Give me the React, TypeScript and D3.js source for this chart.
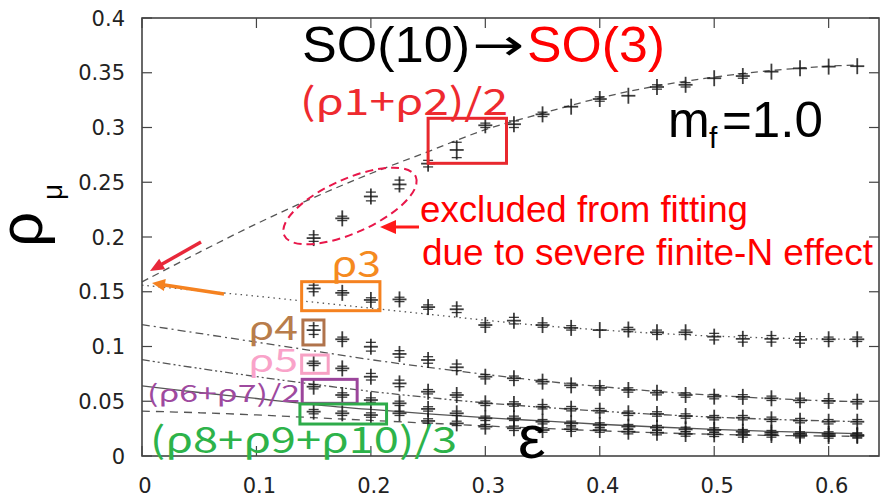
import React from "react";
import * as d3 from "d3";

const W = 894;
const H = 497;

const xTicks = [0, 0.1, 0.2, 0.3, 0.4, 0.5, 0.6];
const xTickLabels = ["0", "0.1", "0.2", "0.3", "0.4", "0.5", "0.6"];
const yTicks = [0, 0.05, 0.1, 0.15, 0.2, 0.25, 0.3, 0.35, 0.4];
const yTickLabels = ["0", "0.05", "0.1", "0.15", "0.2", "0.25", "0.3", "0.35", "0.4"];

// epsilon values of the lattice data
const eps = [0.15, 0.175, 0.2, 0.225, 0.25, 0.275, 0.3, 0.325, 0.35, 0.375, 0.4, 0.425, 0.45, 0.475, 0.5, 0.525, 0.55, 0.575, 0.6, 0.625];

const rho12 = [0.199, 0.217, 0.237, 0.248, 0.267, 0.2795, 0.302, 0.303, 0.312, 0.319, 0.326, 0.329, 0.337, 0.339, 0.345, 0.347, 0.351, 0.354, 0.3556, 0.356];
const rho12Err = [0.003, 0.002, 0.004, 0.004, 0.003, 0.007, 0.002, 0.003, 0.002, 0.001, 0.002, 0.001, 0.002, 0.002, 0.001, 0.002, 0.001, 0.001, 0.001, 0.001];

const rho3 = [0.153, 0.149, 0.1425, 0.143, 0.136, 0.134, 0.1196, 0.1236, 0.1196, 0.117, 0.115, 0.1155, 0.113, 0.113, 0.109, 0.107, 0.107, 0.106, 0.1066, 0.1066];
const rho3Err = [0.003, 0.002, 0.002, 0.002, 0.002, 0.003, 0.002, 0.003, 0.002, 0.002, 0.001, 0.002, 0.002, 0.002, 0.003, 0.003, 0.003, 0.003, 0.002, 0.002];

const rho4 = [0.115, 0.1066, 0.0998, 0.0932, 0.0877, 0.081, 0.0724, 0.071, 0.0679, 0.0645, 0.0622, 0.0603, 0.0578, 0.0557, 0.0542, 0.054, 0.0527, 0.0508, 0.0503, 0.0496];
const rho4Err = [0.004, 0.002, 0.004, 0.003, 0.003, 0.003, 0.002, 0.002, 0.002, 0.002, 0.002, 0.002, 0.002, 0.002, 0.002, 0.002, 0.002, 0.002, 0.002, 0.002];

const rho5 = [0.0846, 0.08, 0.0724, 0.0663, 0.0587, 0.0557, 0.0481, 0.0475, 0.045, 0.0432, 0.0414, 0.039, 0.0384, 0.0365, 0.035, 0.035, 0.0335, 0.0323, 0.0313, 0.0313];
const rho5Err = [0.002, 0.002, 0.003, 0.003, 0.002, 0.002, 0.002, 0.002, 0.002, 0.002, 0.002, 0.002, 0.002, 0.002, 0.002, 0.002, 0.002, 0.002, 0.002, 0.002];

const rho67 = [0.0633, 0.0557, 0.0511, 0.0481, 0.043, 0.039, 0.0344, 0.0344, 0.0313, 0.0298, 0.0283, 0.0268, 0.0259, 0.0243, 0.0237, 0.0222, 0.0213, 0.0201, 0.0201, 0.0192];
const rho67Err = [0.002, 0.002, 0.002, 0.002, 0.002, 0.002, 0.002, 0.002, 0.002, 0.002, 0.002, 0.002, 0.002, 0.002, 0.002, 0.002, 0.002, 0.002, 0.002, 0.002];

const rho8 = [0.0405, 0.039, 0.0374, 0.039, 0.032, 0.0298, 0.0268, 0.0253, 0.0237, 0.0245, 0.0237, 0.0222, 0.0213, 0.0201, 0.0198, 0.0192, 0.0192, 0.0186, 0.0183, 0.0183];
const rho8Err = [0.002, 0.002, 0.002, 0.002, 0.002, 0.002, 0.002, 0.002, 0.002, 0.002, 0.002, 0.002, 0.002, 0.002, 0.002, 0.002, 0.002, 0.002, 0.002, 0.002];

// fit curves
const fitEps = [0, 0.05, 0.1, 0.15, 0.2, 0.25, 0.3, 0.35, 0.4, 0.45, 0.5, 0.55, 0.6, 0.625];
const fit12 = [0.159, 0.186, 0.212, 0.236, 0.258, 0.278, 0.298, 0.313, 0.327, 0.338, 0.346, 0.352, 0.356, 0.357];
const fit3 = [0.156, 0.151, 0.146, 0.1405, 0.135, 0.1295, 0.124, 0.119, 0.1152, 0.112, 0.1095, 0.1078, 0.1068, 0.1065];
const fit4 = [0.12, 0.112, 0.104, 0.096, 0.088, 0.081, 0.0745, 0.0685, 0.0635, 0.059, 0.0555, 0.0525, 0.0503, 0.0496];
const fit5 = [0.088, 0.08, 0.0725, 0.0655, 0.059, 0.0535, 0.0485, 0.0445, 0.041, 0.038, 0.0355, 0.0335, 0.032, 0.0315];
const fit67 = [0.064, 0.058, 0.0525, 0.047, 0.0425, 0.0385, 0.035, 0.032, 0.029, 0.0265, 0.0243, 0.0225, 0.021, 0.0205];
const fit8 = [0.041, 0.0395, 0.0375, 0.035, 0.0325, 0.03, 0.0275, 0.0252, 0.023, 0.0212, 0.0198, 0.0188, 0.0182, 0.018];

const x = d3.scaleLinear().domain([0, 0.644]).range([142, 879]);
const y = d3.scaleLinear().domain([0, 0.4]).range([456, 18]);

const lineGen = d3
  .line<[number, number]>()
  .x((d) => x(d[0]))
  .y((d) => y(d[1]))
  .curve(d3.curveCatmullRom.alpha(0.5));

const fits = [
  { v: fit12, dash: "7,5" },
  { v: fit3, dash: "1.5,4" },
  { v: fit4, dash: "8,4,2,4" },
  { v: fit5, dash: "8,3,2,3,2,3" },
  { v: fit67, dash: "" },
  { v: fit8, dash: "8,6" },
];

const series = [
  { v: rho12, e: rho12Err },
  { v: rho3, e: rho3Err },
  { v: rho4, e: rho4Err },
  { v: rho5, e: rho5Err },
  { v: rho67, e: rho67Err },
  { v: rho8, e: rho8Err },
];

// annotation boxes in data units [eps0, eps1, rhoTop, rhoBottom]
const boxes = [
  { b: [0.25, 0.3185, 0.3084, 0.2673], c: "#e8282e" },
  { b: [0.1395, 0.2079, 0.1592, 0.1327], c: "#f58220" },
  { b: [0.1406, 0.159, 0.1242, 0.1014], c: "#b0734b" },
  { b: [0.1395, 0.1627, 0.0922, 0.0755], c: "#f7a1c4" },
  { b: [0.14, 0.188, 0.07, 0.0481], c: "#9b459b" },
  { b: [0.138, 0.2137, 0.0475, 0.0292], c: "#2eab4a" },
];

function Arrow({ x1, y1, x2, y2, color, w = 3, hl = 14, hw = 7 }: any) {
  const dx = x2 - x1;
  const dy = y2 - y1;
  const L = Math.sqrt(dx * dx + dy * dy);
  const ux = dx / L;
  const uy = dy / L;
  const bx = x2 - ux * hl;
  const by = y2 - uy * hl;
  const px = -uy;
  const py = ux;
  const pts = `${x2},${y2} ${bx + px * hw},${by + py * hw} ${bx - px * hw},${by - py * hw}`;
  return (
    <g>
      <line x1={x1} y1={y1} x2={bx + ux * 2} y2={by + uy * 2} stroke={color} strokeWidth={w} />
      <polygon points={pts} fill={color} />
    </g>
  );
}

export default function App() {
  const axisColor = "#444";
  const tickLen = 10;
  const x0 = x.range()[0];
  const x1 = x.range()[1];
  const y0 = y.range()[0];
  const y1 = y.range()[1];
  const cjk = "'Noto Sans CJK JP', 'Noto Sans', sans-serif";
  const sans = "'Liberation Sans', Arial, sans-serif";
  const tickFont = "'DejaVu Sans', sans-serif";

  return (
    <svg width={W} height={H} style={{ position: "absolute", left: 0, top: 0, background: "#fff" }}>
      <rect x={0} y={0} width={W} height={H} fill="#fff" />

      {/* fit curves */}
      {fits.map((f, i) => (
        <path
          key={"f" + i}
          d={lineGen(fitEps.map((e, j) => [e, f.v[j]] as [number, number])) || ""}
          fill="none"
          stroke="#555"
          strokeWidth={1.3}
          strokeDasharray={f.dash || undefined}
        />
      ))}

      {/* data points with error bars */}
      {series.map((s, si) => (
        <g key={"s" + si} stroke="#1a1a1a" strokeWidth={1.8} strokeOpacity={0.85}>
          {s.v.map((v, i) => {
            const px = x(eps[i]);
            const py = y(v);
            const ep = y(0) - y(s.e[i]);
            const vh = Math.max(8, ep + 2);
            return (
              <g key={i}>
                <line x1={px - 7} y1={py} x2={px + 7} y2={py} />
                <line x1={px} y1={py - vh} x2={px} y2={py + vh} />
                {ep >= 1.5 && <line x1={px - 5} y1={py - ep} x2={px + 5} y2={py - ep} strokeWidth={1.3} />}
                {ep >= 1.5 && <line x1={px - 5} y1={py + ep} x2={px + 5} y2={py + ep} strokeWidth={1.3} />}
              </g>
            );
          })}
        </g>
      ))}

      {/* frame */}
      <rect x={x0} y={y1} width={x1 - x0} height={y0 - y1} fill="none" stroke={axisColor} strokeWidth={1.6} />
      {yTicks.map((t, i) => (
        <g key={"yt" + i}>
          <line x1={x0} y1={y(t)} x2={x0 + tickLen} y2={y(t)} stroke={axisColor} strokeWidth={1.2} />
          <line x1={x1} y1={y(t)} x2={x1 - tickLen} y2={y(t)} stroke={axisColor} strokeWidth={1.2} />
          <text x={125} y={y(t)} dy="0.36em" textAnchor="end" fontFamily={tickFont} fontSize={21} fill="#222">
            {yTickLabels[i]}
          </text>
        </g>
      ))}
      {xTicks.map((t, i) => (
        <g key={"xt" + i}>
          <line x1={x(t)} y1={y0} x2={x(t)} y2={y0 - tickLen} stroke={axisColor} strokeWidth={1.2} />
          <line x1={x(t)} y1={y1} x2={x(t)} y2={y1 + tickLen} stroke={axisColor} strokeWidth={1.2} />
          <text x={x(t) + 3} y={493} textAnchor="middle" fontFamily={tickFont} fontSize={21} fill="#222">
            {xTickLabels[i]}
          </text>
        </g>
      ))}

      {/* boxes */}
      {boxes.map((bx, i) => (
        <rect
          key={"b" + i}
          x={x(bx.b[0])}
          y={y(bx.b[2])}
          width={x(bx.b[1]) - x(bx.b[0])}
          height={y(bx.b[3]) - y(bx.b[2])}
          fill="none"
          stroke={bx.c}
          strokeWidth={3}
        />
      ))}

      {/* dashed ellipse */}
      <ellipse
        cx={350}
        cy={206}
        rx={72}
        ry={27}
        transform="rotate(-24 350 206)"
        fill="none"
        stroke="#e8174a"
        strokeWidth={2}
        strokeDasharray="8,5"
      />

      {/* arrows */}
      <Arrow x1={201} y1={242} x2={150} y2={271} color="#e8283a" w={3.5} hl={14} hw={6} />
      <Arrow x1={224} y1={294} x2={152} y2={283} color="#f58220" w={3.5} hl={13} hw={6} />
      <Arrow x1={419} y1={227} x2={380} y2={227} color="#ff1a1a" w={3} hl={16} hw={7} />

      {/* titles */}
      <text x={302} y={62} fontFamily={sans} fontSize={50} fill="#000" textLength={168} lengthAdjust="spacingAndGlyphs">
        SO(10)
      </text>
      <text x={472} y={60} fontFamily="'DejaVu Sans', sans-serif" fontSize={44} fill="#000" textLength={52} lengthAdjust="spacingAndGlyphs">
        →
      </text>
      <text x={527} y={62} fontFamily={sans} fontSize={50} fill="#ff0000" textLength={138} lengthAdjust="spacingAndGlyphs">
        SO(3)
      </text>
      <text x={668} y={137} fontFamily={sans} fontSize={50} fill="#000">
        m
      </text>
      <text x={709} y={148} fontFamily={sans} fontSize={30} fill="#000">
        f
      </text>
      <text x={722} y={137} fontFamily={sans} fontSize={50} fill="#000" textLength={101} lengthAdjust="spacingAndGlyphs">
        =1.0
      </text>

      {/* red note */}
      <text x={420} y={222} fontFamily={sans} fontSize={36} fill="#ff0000" textLength={328} lengthAdjust="spacingAndGlyphs">
        excluded from fitting
      </text>
      <text x={422} y={265} fontFamily={sans} fontSize={36} fill="#ff0000" textLength={451} lengthAdjust="spacingAndGlyphs">
        due to severe finite-N effect
      </text>

      {/* series labels */}
      <text x={300} y={115} fontFamily={cjk} fontSize={37} fill="#ee2a2f" textLength={208} lengthAdjust="spacingAndGlyphs">
        (ρ1+ρ2)/2
      </text>
      <text x={331} y={277} fontFamily={cjk} fontSize={36} fill="#f58a1f" textLength={50} lengthAdjust="spacingAndGlyphs">
        ρ3
      </text>
      <text x={248} y={340} fontFamily={cjk} fontSize={33} fill="#b87d4b" textLength={50} lengthAdjust="spacingAndGlyphs">
        ρ4
      </text>
      <text x={248} y={372} fontFamily={cjk} fontSize={32} fill="#f9a3c9" textLength={50} lengthAdjust="spacingAndGlyphs">
        ρ5
      </text>
      <text x={147} y={402} fontFamily={cjk} fontSize={24} fill="#9e4a9f" textLength={153} lengthAdjust="spacingAndGlyphs">
        (ρ6+ρ7)/2
      </text>
      <text x={150} y={453} fontFamily={cjk} fontSize={36} fill="#2db34a" textLength={307} lengthAdjust="spacingAndGlyphs">
        (ρ8+ρ9+ρ10)/3
      </text>

      {/* axis labels */}
      <text x={518} y={458} fontFamily={sans} fontSize={62} fill="#000">
        ε
      </text>
      <text transform="translate(42,247) rotate(-90)" fontFamily={sans} fontSize={62} fill="#000">
        ρ
      </text>
      <text transform="translate(62,200) rotate(-90)" fontFamily={sans} fontSize={28} fill="#000">
        μ
      </text>
    </svg>
  );
}
